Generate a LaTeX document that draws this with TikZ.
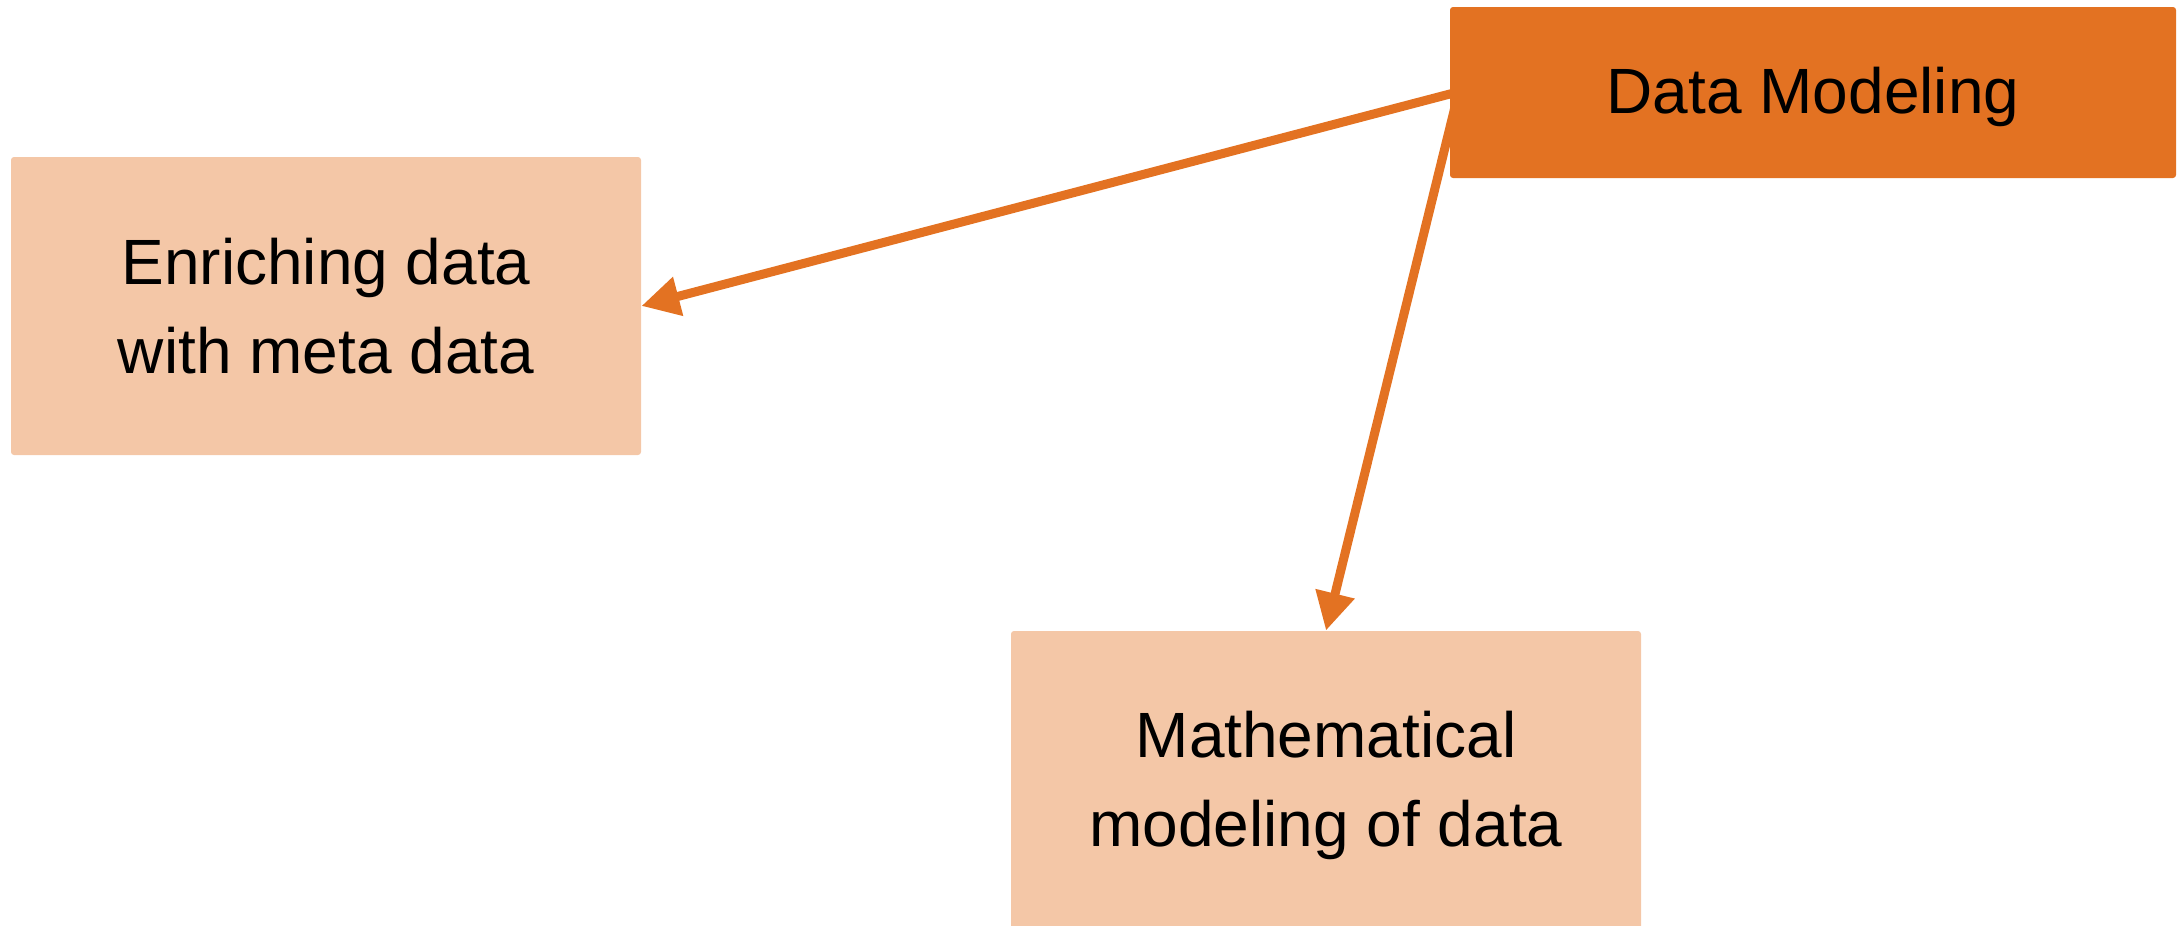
\documentclass[tikz,border=0pt]{standalone}
\usepackage{fontspec}
\setmainfont{Liberation Sans}
\usetikzlibrary{arrows.meta,backgrounds}
\definecolor{dmorange}{HTML}{E37222}
\definecolor{peach}{HTML}{F4C7A7}
\tikzset{
  mainbox/.style={fill=dmorange, rounded corners=1.5pt, minimum width=363pt, minimum height=85.5pt, align=center, font=\fontsize{32}{44.5}\selectfont, inner sep=0pt},
  subbox/.style={fill=peach, rounded corners=1.5pt, minimum width=315pt, minimum height=149pt, align=center, font=\fontsize{32}{44.5}\selectfont, inner sep=0pt},
  link/.style={draw=dmorange, line width=4.5pt, -{Triangle[length=19pt,width=19pt]}}
}
\begin{document}
\begin{tikzpicture}[x=0.5pt,y=-0.5pt]
\useasboundingbox (0,0) rectangle (2180,926);
\node[mainbox, text depth=2.6pt] (dm) at (1813,92.5) {Data Modeling};
\node[subbox] (en) at (326,306) {Enriching data\\with meta data};
\node[subbox, text depth=1.2pt] (ma) at (1326,780) {Mathematical\\modeling of data};
\begin{scope}[on background layer]
\draw[link] ([xshift=3pt]dm.west) -- (en.east);
\draw[link] ([xshift=3pt,yshift=-6pt]dm.west) -- (ma.north);
\end{scope}
\end{tikzpicture}
\end{document}
